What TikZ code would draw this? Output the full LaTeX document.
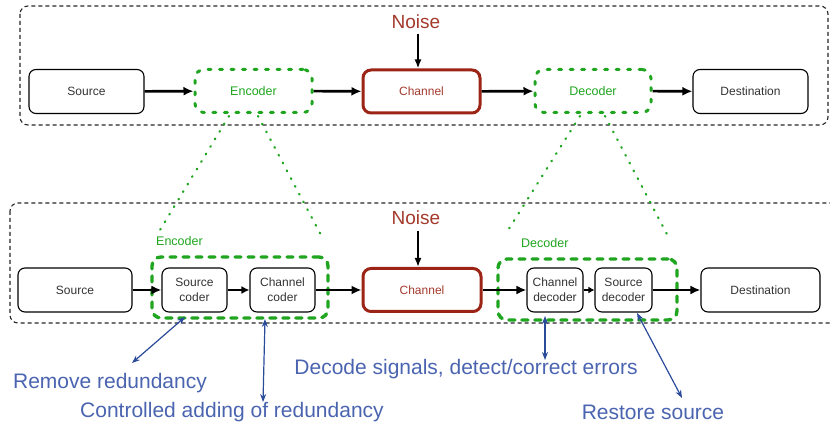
\documentclass[tikz,border=0pt]{standalone}
\usepackage{fontspec}
\setmainfont{Liberation Sans}
\usetikzlibrary{arrows.meta,calc}
\definecolor{nred}{HTML}{9B2416}
\definecolor{ntext}{HTML}{A33A2C}
\definecolor{ngreen}{HTML}{1FA51F}
\definecolor{nbluet}{HTML}{4A64B0}
\definecolor{nbluea}{HTML}{2A4A9A}
\definecolor{ndark}{HTML}{333333}
\tikzset{
  blk/.style={draw=black, line width=1.1pt, rounded corners=7pt, minimum height=44pt, inner sep=1pt,
    font=\fontsize{12}{15}\selectfont, text=ndark, align=center},
  chan/.style={draw=nred, line width=3pt, rounded corners=8pt, minimum height=43pt, inner sep=1pt,
    font=\fontsize{12}{15}\selectfont, text=ntext},
  gtop/.style={draw=ngreen, line width=3pt, dash pattern=on 3pt off 8.5pt, line cap=round, rounded corners=9pt,
    minimum height=43pt, font=\fontsize{12.5}{15}\selectfont, text=ngreen},
  gbox/.style={draw=ngreen, line width=3.4pt, dash pattern=on 6pt off 7pt, line cap=round, rounded corners=9pt},
  gdot/.style={draw=ngreen, line width=2.2pt, dash pattern=on 0.8pt off 8pt, line cap=round},
  frame/.style={draw=black!85, line width=1.1pt, dash pattern=on 4pt off 3pt, rounded corners=8pt},
  flow/.style={draw=black, line width=2.6pt, -{Latex[length=10pt,width=9pt]}},
  noisearr/.style={draw=black, line width=1.7pt, -{Latex[length=9pt,width=7pt]}},
  noisetxt/.style={font=\fontsize{19}{22}\selectfont, text=ntext, inner sep=0pt},
  ann/.style={draw=nbluea, line width=1.2pt, {Stealth[length=8pt,width=6pt]}-{Stealth[length=8pt,width=6pt]}},
  anntxt/.style={font=\fontsize{21}{24}\selectfont, text=nbluet, inner sep=0pt},
  glabel/.style={font=\fontsize{12.5}{15}\selectfont, text=ngreen, inner sep=0pt, anchor=west}
}
\begin{document}
\begin{tikzpicture}[x=1pt,y=-1pt]
\useasboundingbox (0,0) rectangle (830,427);
% frames
\draw[frame] (20,6) rectangle (828,125);
\draw[frame] (10,203) rectangle (850,323);

% ---- top row ----
\node[blk, minimum width=115pt] (src1) at (86.5,91.5) {Source};
\node[gtop, minimum width=117pt] (enc1) at (253.5,91) {Encoder};
\node[chan, minimum width=117pt] (ch1) at (421.5,91.5) {Channel};
\node[gtop, minimum width=116pt] (dec1) at (593,91) {Decoder};
\node[blk, minimum width=115pt] (dst1) at (750.5,91.5) {Destination};
\node[noisetxt] (noise1) at (416,22) {Noise};

\draw[flow] (src1) -- (enc1);
\draw[flow] (enc1) -- (ch1);
\draw[flow] (ch1) -- (dec1);
\draw[flow] (dec1) -- (dst1);
\coordinate (n1s) at (418,34);
\draw[noisearr] (n1s) -- (n1s |- ch1.north);

% ---- bottom row ----
\node[gbox, minimum width=176pt, minimum height=61pt] (encbox) at (240,287.5) {};
\node[gbox, minimum width=179pt, minimum height=61pt] (decbox) at (587.5,289.5) {};
\node[blk, minimum width=114pt] (src2) at (75,290) {Source};
\node[blk, minimum width=65pt] (sc) at (194.5,290) {Source\\coder};
\node[blk, minimum width=65pt] (cc) at (282.5,290) {Channel\\coder};
\node[chan, minimum width=118pt] (ch2) at (422,290) {Channel};
\node[blk, minimum width=56pt] (cd) at (555,290) {Channel\\decoder};
\node[blk, minimum width=57pt] (sd) at (623.5,290) {Source\\decoder};
\node[blk, minimum width=119pt] (dst2) at (760.5,290) {Destination};
\node[noisetxt] (noise2) at (416,218) {Noise};
\node[glabel] (enclab) at (156,241) {Encoder};
\node[glabel] (declab) at (521,243) {Decoder};

\draw[flow] (src2) -- (sc);
\draw[flow, line width=2.2pt, -{Latex[length=8pt,width=8pt]}] (sc) -- (cc);
\draw[flow] (cc) -- (ch2);
\draw[flow] (ch2) -- (cd);
\draw[flow, line width=2.2pt, -{Latex[length=6pt,width=7pt]}] (cd) -- (sd);
\draw[flow] (sd) -- (dst2);
\coordinate (n2s) at (418,231);
\draw[noisearr] (n2s) -- (n2s |- ch2.north);

% ---- zoom lines ----
\coordinate (e1a) at (229,116);
\coordinate (e1b) at (258,116);
\coordinate (e2a) at (160,230);
\coordinate (e2b) at (322,237);
\coordinate (d1a) at (580,116);
\coordinate (d1b) at (605,116);
\coordinate (d2a) at (505,235);
\coordinate (d2b) at (670,240);
\draw[gdot] (e1a) -- (e2a);
\draw[gdot] (e1b) -- (e2b);
\draw[gdot] (d1a) -- (d2a);
\draw[gdot] (d1b) -- (d2b);

% ---- annotations ----
\node[anntxt] (t1) at (110,383) {Remove redundancy};
\node[anntxt] (t2) at (232,412) {Controlled adding of redundancy};
\node[anntxt] (t3) at (466,369) {Decode signals, detect/correct errors};
\node[anntxt] (t4) at (653,412) {Restore source};

\coordinate (a1s) at (185,317);
\coordinate (a1e) at (132,363);
\coordinate (a2s) at (265,319);
\coordinate (a2e) at (263,402);
\coordinate (a3s) at (545,316);
\coordinate (a3e) at (545,360);
\coordinate (a4s) at (637,313);
\coordinate (a4e) at (682,398);
\draw[ann] (a1s) -- (a1e);
\draw[ann] (a2s) -- (a2e);
\draw[ann] (a3s) -- (a3e);
\draw[ann] (a4s) -- (a4e);
\end{tikzpicture}
\end{document}
